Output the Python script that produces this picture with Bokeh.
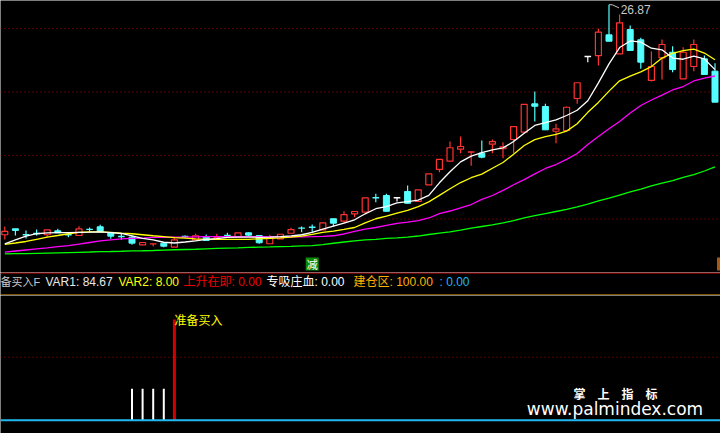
from bokeh.plotting import figure
from bokeh.layouts import column
from bokeh.models import Range1d, Span
from bokeh.embed import file_html
from bokeh.resources import INLINE
from bokeh.core.properties import value

# ---------------- daily bars ----------------
opens = [8.76, 9.23, 8.78, 8.87, 8.76, 9.07, 8.77, 8.70, 9.19, 9.39,
         8.91, 8.63, 8.57, 7.97, 8.03, 8.10, 7.78, 8.63, 8.36, 8.57,
         8.50, 8.72, 8.62, 8.91, 8.70, 8.05, 8.44, 8.88, 9.29, 9.36,
         9.15, 10.02, 9.83, 10.41, 10.54, 11.68, 11.85, 11.67, 12.17, 11.38,
         12.69, 13.90, 14.55, 15.50, 15.24, 15.18, 15.89, 15.53, 16.26, 16.84,
         19.07, 18.86, 16.91, 16.97, 19.49, 22.80, 22.87, 24.50, 23.01, 24.92,
         24.11, 20.91, 22.69, 23.13, 21.04, 22.01, 22.61, 21.64]
highs = [9.41, 9.23, 9.10, 9.17, 9.15, 9.23, 8.94, 9.43, 9.33, 9.54,
         8.96, 8.84, 8.70, 8.15, 8.05, 8.10, 8.52, 8.70, 8.84, 8.78,
         8.84, 8.91, 8.91, 8.96, 8.70, 8.76, 8.80, 9.31, 9.41, 9.57,
         9.70, 10.02, 10.61, 10.59, 11.67, 11.99, 11.99, 11.67, 12.64, 12.30,
         13.56, 14.69, 16.10, 16.50, 15.32, 16.18, 16.26, 16.05, 17.28, 19.02,
         20.04, 19.07, 17.50, 18.85, 20.73, 22.80, 24.98, 26.87, 26.10, 25.24,
         24.27, 23.19, 24.13, 23.61, 23.53, 24.13, 22.87, 22.27]
lows = [8.39, 8.70, 8.47, 8.70, 8.57, 8.91, 8.57, 8.70, 8.96, 9.02,
        8.44, 8.36, 7.97, 7.97, 7.86, 7.78, 7.78, 8.52, 8.36, 8.31,
        8.44, 8.52, 8.62, 8.62, 8.05, 8.05, 8.44, 8.88, 8.96, 8.96,
        9.15, 9.41, 9.67, 10.14, 10.54, 11.32, 10.61, 11.38, 11.20, 11.38,
        12.69, 13.69, 14.55, 15.18, 14.19, 14.79, 15.18, 14.79, 15.18, 16.84,
        17.68, 17.02, 15.97, 16.97, 19.07, 22.35, 22.09, 24.00, 23.01, 23.27,
        21.83, 20.83, 20.98, 21.56, 21.04, 21.64, 21.38, 19.20]
closes = [9.02, 9.10, 8.75, 8.85, 9.15, 8.91, 8.75, 9.23, 9.17, 9.02,
          8.65, 8.61, 8.10, 8.15, 8.05, 7.86, 8.36, 8.61, 8.68, 8.31,
          8.55, 8.70, 8.91, 8.73, 8.13, 8.52, 8.80, 9.17, 9.27, 9.34,
          9.70, 9.67, 10.35, 10.59, 11.67, 11.66, 10.61, 11.67, 11.24, 12.30,
          13.56, 14.69, 15.61, 15.71, 15.32, 14.87, 16.10, 15.69, 17.28, 19.02,
          18.88, 17.02, 17.10, 18.80, 20.73, 22.80, 24.71, 24.00, 25.45, 23.27,
          22.35, 22.01, 23.74, 21.77, 23.13, 23.74, 21.38, 19.20]

# ---------------- moving averages ----------------
ma5 = [8.05, 8.36, 8.65, 8.84, 8.90, 8.93, 8.92, 8.95, 8.96, 8.99,
       8.93, 8.86, 8.68, 8.47, 8.35, 8.17, 8.11, 8.19, 8.28, 8.39,
       8.46, 8.55, 8.58, 8.58, 8.56, 8.58, 8.62, 8.67, 8.76, 8.95,
       9.20, 9.44, 9.68, 9.94, 10.41, 10.81, 10.98, 11.27, 11.37, 11.48,
       11.86, 12.85, 13.72, 14.50, 14.95, 15.22, 15.45, 15.60, 16.10, 16.75,
       17.37, 17.59, 17.80, 18.15, 18.56, 19.31, 20.72, 22.22, 23.50, 24.02,
       23.93, 23.45, 23.32, 22.67, 22.58, 22.82, 22.60, 21.76]
ma10 = [8.00, 8.11, 8.23, 8.40, 8.57, 8.70, 8.84, 8.94, 8.98, 8.99,
        8.95, 8.89, 8.84, 8.76, 8.68, 8.61, 8.54, 8.49, 8.44, 8.40,
        8.40, 8.39, 8.39, 8.40, 8.44, 8.47, 8.51, 8.58, 8.66, 8.79,
        8.94, 9.05, 9.18, 9.33, 9.70, 10.02, 10.22, 10.47, 10.68, 10.98,
        11.35, 11.86, 12.38, 12.87, 13.25, 13.53, 14.00, 14.45, 15.10, 15.79,
        16.25, 16.48, 16.66, 16.92, 17.50, 18.40, 19.18, 20.07, 20.88, 21.25,
        21.58, 22.00, 22.67, 23.05, 23.26, 23.37, 23.07, 22.54]
ma20 = [7.40, 7.48, 7.56, 7.64, 7.72, 7.83, 7.91, 8.03, 8.15, 8.27,
        8.35, 8.43, 8.47, 8.50, 8.55, 8.56, 8.57, 8.58, 8.60, 8.61,
        8.62, 8.62, 8.62, 8.62, 8.61, 8.60, 8.59, 8.59, 8.60, 8.61,
        8.63, 8.68, 8.82, 9.02, 9.21, 9.33, 9.49, 9.65, 9.76, 9.88,
        10.08, 10.43, 10.63, 10.87, 11.14, 11.55, 11.85, 12.25, 12.70, 13.10,
        13.55, 13.98, 14.29, 14.69, 15.16, 15.87, 16.50, 17.10, 17.68, 18.35,
        18.94, 19.37, 19.76, 20.16, 20.43, 20.87, 21.10, 21.26]
ma60 = [7.26, 7.27, 7.28, 7.30, 7.32, 7.34, 7.36, 7.38, 7.40, 7.43,
        7.44, 7.46, 7.49, 7.50, 7.52, 7.55, 7.58, 7.60, 7.62, 7.65,
        7.68, 7.70, 7.72, 7.76, 7.78, 7.80, 7.83, 7.85, 7.88, 7.91,
        7.99, 8.09, 8.19, 8.27, 8.35, 8.39, 8.47, 8.52, 8.58, 8.66,
        8.78, 8.88, 8.98, 9.13, 9.29, 9.41, 9.53, 9.69, 9.88, 10.08,
        10.27, 10.43, 10.59, 10.75, 10.95, 11.18, 11.42, 11.65, 11.89, 12.13,
        12.36, 12.60, 12.83, 13.03, 13.27, 13.50, 13.78, 14.10]

price_grid = [25, 20, 15, 10]
mark_idx = [29]
mark_text = ["减"]
edge_mark_color = "#a85a14"

# ---------------- indicator pane ----------------
signal_idx = [12, 13, 14, 15]
signal_vals = [25, 25, 25, 25]
buy_idx = [16]
buy_vals = [80]
buy_text = ["准备买入"]
lower_grid = [50]

status_text = ["备买入F", "VAR1: 84.67", "VAR2: 8.00", "上升在即: 0.00",
               "专吸庄血: 0.00", "建仓区: 100.00", ": 0.00"]
status_color = ["#c8c8c8", "#e8e8e8", "#ffff00", "#f00000",
                "#ffffff", "#ffb000", "#1eb4ff"]

# ---------------- layout constants ----------------
W = 720
MAIN_H, ROW_H, LOW_H = 272, 23, 138
STEP = 10.6        # pixels per bar
X0 = 4.3           # pixel centre of the first bar
PX = 12.7          # pixels per price unit
P_TOP = 27.205     # price at the top edge of the main pane
LOW_PX = 1.2588    # pixels per indicator unit
LOW_BASE = 124.7   # zero line, pixels below the top of the indicator pane

UP, DOWN, FLAT = "#ff3232", "#54ffff", "#ffffff"
CJK = value("Liberation Sans, Noto Sans CJK SC")


def bar_x(px):
    return (px - X0) / STEP


def pane(height, x_range, y_range):
    p = figure(width=W, height=height, x_range=x_range, y_range=y_range,
               output_backend="svg", toolbar_location=None,
               x_axis_type=None, y_axis_type=None,
               background_fill_color="black", border_fill_color="black",
               outline_line_color=None, min_border=0)
    p.grid.visible = False
    return p


xr = Range1d(bar_x(0), bar_x(W))

# ================= main price pane =================
main = pane(MAIN_H, xr, Range1d(P_TOP - MAIN_H / PX, P_TOP))
for lvl in price_grid:
    main.add_layout(Span(location=lvl, dimension="width", line_color="#b00000",
                         line_dash="1 3", line_width=1, level="underlay"))

n = len(closes)
body_w = 6.0 / STEP
half = 3.3 / STEP
flat_eps = 1.2 / PX

wx0, wy0, wx1, wy1, wc = [], [], [], [], []
ux, ut, ub = [], [], []
dx, dt, db = [], [], []
fx0, fx1, fy, fc = [], [], [], []
for i in range(n):
    o, h, l, c = opens[i], highs[i], lows[i], closes[i]
    if abs(c - o) < flat_eps:
        col = UP if c > o else (DOWN if c < o else FLAT)
        fx0.append(i - half); fx1.append(i + half); fy.append((o + c) / 2); fc.append(col)
        wx0.append(i); wy0.append(l); wx1.append(i); wy1.append(h); wc.append(col)
    elif c > o:
        ux.append(i); ut.append(c); ub.append(o)
        if h > c:
            wx0.append(i); wy0.append(c); wx1.append(i); wy1.append(h); wc.append(UP)
        if l < o:
            wx0.append(i); wy0.append(l); wx1.append(i); wy1.append(o); wc.append(UP)
    else:
        dx.append(i); dt.append(o); db.append(c)
        wx0.append(i); wy0.append(l); wx1.append(i); wy1.append(h); wc.append(DOWN)

main.segment(x0=wx0, y0=wy0, x1=wx1, y1=wy1, line_color=wc, line_width=1.2)
main.vbar(x=ux, width=body_w, top=ut, bottom=ub, fill_color="black",
          line_color=UP, line_width=1.2)
main.vbar(x=dx, width=body_w, top=dt, bottom=db, fill_color=DOWN,
          line_color=DOWN, line_width=1)
main.segment(x0=fx0, y0=fy, x1=fx1, y1=fy, line_color=fc, line_width=1.4)

idx = list(range(n))
main.line(idx, ma60, line_color="#00ff00", line_width=1.3)
main.line(idx, ma20, line_color="#ff00ff", line_width=1.3)
main.line(idx, ma10, line_color="#ffff00", line_width=1.3)
main.line(idx, ma5, line_color="#ffffff", line_width=1.3)

# peak marker
k = max(range(n), key=lambda i: highs[i])
pk = highs[k]
main.line([k, k + 0.3, k + 0.95], [pk, pk, pk - 0.25], line_color="#c0c0c0", line_width=1)
main.text(x=[k + 1.1], y=[pk - 0.41], text=[f"{pk:.2f}"], text_color="#c8c8c8",
          text_font=value("Liberation Sans"), text_font_size="12px",
          text_align="left", text_baseline="middle")

# signal tags under the bars
tag_y = P_TOP - 263.5 / PX
main.rect(x=mark_idx, y=[tag_y] * len(mark_idx), width=13, height=13,
          width_units="screen", height_units="screen",
          fill_color="#0a8a0a", line_color=None)
main.text(x=mark_idx, y=[tag_y] * len(mark_idx), text=mark_text, text_color="white",
          text_font=value("Noto Sans CJK SC"), text_font_size="11px",
          text_align="center", text_baseline="middle")
main.rect(x=[bar_x(723)], y=[tag_y], width=13, height=13,
          width_units="screen", height_units="screen",
          fill_color=edge_mark_color, line_color=None)

# ================= status row =================
row = pane(ROW_H, Range1d(0, W), Range1d(0, ROW_H))
row.segment(x0=[0], y0=[ROW_H - 0.5], x1=[W], y1=[ROW_H - 0.5], line_color="#d00000", line_width=1)
row.segment(x0=[0], y0=[0.5], x1=[W], y1=[0.5], line_color="#ffa800", line_width=1)
status_x = [0, 45, 118, 183, 266, 353, 439]
status_size = ["11px"] + ["12px"] * (len(status_text) - 1)
for j, (txt, col) in enumerate(zip(status_text, status_color)):
    row.text(x=[status_x[j]], y=[14], text=[txt], text_color=col,
             text_font=CJK, text_font_size=status_size[j],
             text_align="left", text_baseline="middle")

# ================= indicator pane =================
low = pane(LOW_H, xr, Range1d(-(LOW_H - LOW_BASE) / LOW_PX, LOW_BASE / LOW_PX))
for lvl in lower_grid:
    low.add_layout(Span(location=lvl, dimension="width", line_color="#b00000",
                        line_dash="1 3", line_width=1, level="underlay"))
low.segment(x0=signal_idx, y0=[0] * len(signal_idx), x1=signal_idx, y1=signal_vals,
            line_color="white", line_width=2)
low.segment(x0=buy_idx, y0=[0] * len(buy_idx), x1=buy_idx, y1=buy_vals,
            line_color="#d40000", line_width=3)
low.add_layout(Span(location=0, dimension="width", line_color="#20b8f0", line_width=2))
low.text(x=buy_idx, y=buy_vals, text=buy_text, text_color="#ffff00",
         text_font=value("Noto Sans CJK SC"), text_font_size="12px",
         text_align="left", text_baseline="middle")

# site mark
low.text(x=[bar_x(615)], y=[(LOW_BASE - 98) / LOW_PX], text=["掌　上　指　标"],
         text_color="white", text_font=value("Noto Sans CJK SC"), text_font_size="12px",
         text_font_style="bold", text_align="center", text_baseline="middle")
low.text(x=[bar_x(614.5)], y=[(LOW_BASE - 113.5) / LOW_PX], text=["www.palmindex.com"],
         text_color="white", text_font=value("DejaVu Sans"), text_font_size="17px",
         text_align="center", text_baseline="middle")

layout = column(main, row, low, spacing=0)
open("out.html", "w").write(file_html(layout, INLINE))
